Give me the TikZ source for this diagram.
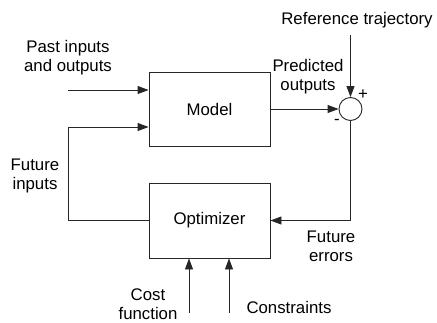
\documentclass[tikz,border=0pt]{standalone}
\usepackage{fontspec}
\setmainfont{Liberation Sans}
\usetikzlibrary{arrows.meta,calc}
\begin{document}
\begin{tikzpicture}[x=1pt,y=-1pt,
  every node/.style={font=\fontsize{16.8}{19}\selectfont, inner sep=0pt},
  blk/.style={draw=black!85, line width=0.9pt, minimum width=121pt, minimum height=74pt},
  sumc/.style={draw=black!85, line width=0.9pt, circle, minimum size=23pt},
  lbl/.style={align=center},
  conn/.style={draw=black!85, line width=0.9pt},
  arr/.style={conn, -{Triangle[length=11pt,width=8pt]}}]
\useasboundingbox (0,0) rectangle (437,322);
\node[blk] (model) at (209.5,109) {Model};
\node[blk, minimum height=75pt] (opt) at (209.5,220.5) {Optimizer};
\node[sumc] (sum) at (350.5,109) {};
\coordinate (pin) at (68,90);
\coordinate (fb) at (68,127);
\coordinate (ref) at (350.5,35);
\coordinate (cost) at (189,313);
\coordinate (cons) at (229,313);
\draw[arr] (pin) -- (pin -| model.west);
\draw[arr] (opt.west) -| (fb) -- (fb -| model.west);
\draw[arr] (model.east) -- (sum.west);
\draw[arr] (ref) -- (sum.north);
\draw[arr] (sum.south) |- (opt.east);
\draw[arr] (cost) -- (cost |- opt.south);
\draw[arr] (cons) -- (cons |- opt.south);
\node[lbl] (tpast) at (68,58) {Past inputs\\and outputs};
\node[lbl] (tref) at (357,20) {Reference trajectory};
\node[lbl] (tpred) at (308,77) {Predicted\\outputs};
\node (tplus) at (363,95) {+};
\node (tminus) at (337,122) {-};
\node[lbl] (tfin) at (35,176) {Future\\inputs};
\node[lbl] (tfer) at (331,246) {Future\\errors};
\node[lbl] (tcost) at (148,304) {Cost\\function};
\node (tcons) at (289,307) {Constraints};
\end{tikzpicture}
\end{document}
